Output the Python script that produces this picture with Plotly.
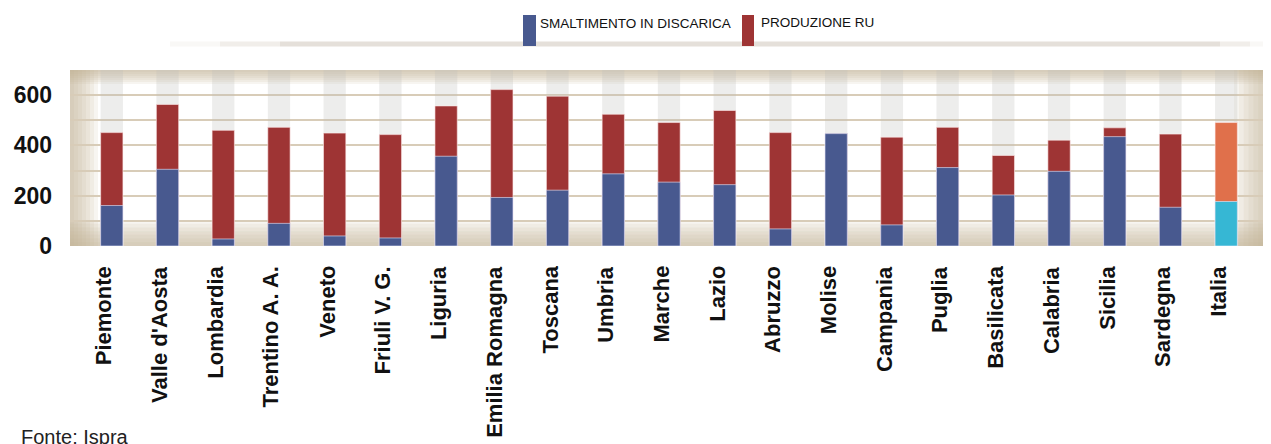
import plotly.graph_objects as go

regions = ["Piemonte", "Valle d'Aosta", "Lombardia", "Trentino A. A.", "Veneto",
           "Friuli V. G.", "Liguria", "Emilia Romagna", "Toscana", "Umbria",
           "Marche", "Lazio", "Abruzzo", "Molise", "Campania", "Puglia",
           "Basilicata", "Calabria", "Sicilia", "Sardegna", "Italia"]
smaltimento = [161, 305, 28, 90, 40, 32, 357, 193, 222, 287, 254, 244, 68, 447,
               84, 312, 203, 297, 435, 154, 177]
produzione = [451, 563, 460, 472, 449, 443, 557, 622, 596, 524, 491, 539, 451, 447,
              433, 472, 360, 421, 470, 445, 491]
y_max = 700

BLUE = "#48598f"
RED = "#9e3434"
ORANGE = "#e0704b"
CYAN = "#36b7d4"

n = len(regions)
prod_colors = [RED] * (n - 1) + [ORANGE]
smal_colors = [BLUE] * (n - 1) + [CYAN]

fig = go.Figure()
fig.add_trace(go.Bar(x=regions, y=[y_max] * n, width=0.4,
                     marker=dict(color="rgba(190,190,185,0.28)", line=dict(width=0)),
                     hoverinfo="skip", showlegend=False))
fig.add_trace(go.Bar(x=regions, y=produzione, width=0.4, name="PRODUZIONE RU",
                     marker=dict(color=prod_colors, line=dict(width=1, color="rgba(255,235,235,0.6)")),
                     showlegend=False))
fig.add_trace(go.Bar(x=regions, y=smaltimento, width=0.4, name="SMALTIMENTO IN DISCARICA",
                     marker=dict(color=smal_colors, line=dict(width=1, color="rgba(230,235,255,0.6)")),
                     showlegend=False))

# page body has an 8px default margin: compensate so the plot lands where the reference has it
PAGE = 8
W, H = 1198.0, 176.0
shapes = []
N = 7
tone = "rgba(196,178,148,{a})"
sides = {"left": 28, "right": 34, "top": 14, "bottom": 26}
for side, depth in sides.items():
    for i in range(N):
        d = depth * (i + 1) / N
        a = 0.13
        if side == "left":
            x0, x1, y0, y1 = 0, d / W, 0, 1
        elif side == "right":
            x0, x1, y0, y1 = 1 - d / W, 1, 0, 1
        elif side == "top":
            x0, x1, y0, y1 = 0, 1, 1 - d / H, 1
        else:
            x0, x1, y0, y1 = 0, 1, 0, d / H
        shapes.append(dict(type="rect", xref="paper", yref="paper", x0=x0, x1=x1, y0=y0, y1=y1,
                           fillcolor=tone.format(a=a), line=dict(width=0), layer="below"))


def px_x(p):
    return (p - 70) / W


def px_y(p):
    return (246 - p) / H


# decorative soft shadow line under the legend
segs = [(170, 220, 0.08), (220, 280, 0.18), (280, 1220, 0.32), (1220, 1250, 0.18), (1250, 1266, 0.08)]
for a0, a1, al in segs:
    shapes.append(dict(type="line", xref="paper", yref="paper", x0=px_x(a0), x1=px_x(a1),
                       y0=px_y(44), y1=px_y(44), line=dict(color=f"rgba(175,160,140,{al})", width=5)))

# legend boxes
shapes.append(dict(type="rect", xref="paper", yref="paper", x0=px_x(523), x1=px_x(536),
                   y0=px_y(46), y1=px_y(15), fillcolor=BLUE, line=dict(width=0)))
shapes.append(dict(type="rect", xref="paper", yref="paper", x0=px_x(742), x1=px_x(754),
                   y0=px_y(46), y1=px_y(15), fillcolor=RED, line=dict(width=0)))

LEG_FONT = dict(family="Liberation Sans, Arial", size=13.5, color="#111")
annotations = [
    dict(text="SMALTIMENTO IN DISCARICA", xref="paper", yref="paper", x=px_x(538), y=px_y(24),
         xanchor="left", yanchor="middle", showarrow=False, font=LEG_FONT),
    dict(text="PRODUZIONE RU", xref="paper", yref="paper", x=px_x(759), y=px_y(23),
         xanchor="left", yanchor="middle", showarrow=False, font=LEG_FONT),
    dict(text="Fonte: Ispra", xref="paper", yref="paper", x=px_x(19), y=px_y(424),
         xanchor="left", yanchor="top", showarrow=False,
         font=dict(family="Liberation Sans, Arial", size=20, color="#222")),
]

# category labels, rotated, hanging below the plot frame
for r in regions:
    annotations.append(dict(text=r, x=r, xref="x", y=0, yref="paper", xanchor="center",
                            yanchor="top", yshift=-18, xshift=-8, textangle=-90, showarrow=False,
                            font=dict(family="Liberation Sans, Arial", size=22, color="#111",
                                      weight="bold")))

fig.update_layout(
    width=1271 - PAGE, height=444 - PAGE,
    margin=dict(l=70 - PAGE, r=1271 - 1268, t=70 - PAGE, b=(444 - PAGE) - (70 - PAGE) - 176,
                autoexpand=False),
    paper_bgcolor="white", plot_bgcolor="white",
    barmode="overlay",
    shapes=shapes, annotations=annotations,
    font=dict(family="Liberation Sans, Arial", color="#111"),
    xaxis=dict(range=[-0.75, n - 0.25], showticklabels=False, showgrid=False, zeroline=False,
               showline=False, ticks="", automargin=False),
    yaxis=dict(range=[0, y_max], dtick=200, showgrid=True, gridcolor="#d8ccb8", gridwidth=2,
               minor=dict(dtick=100, showgrid=True, gridcolor="#d8ccb8", gridwidth=2),
               zeroline=False, showline=False, ticks="", ticklabelstandoff=17, automargin=False,
               tickfont=dict(family="Liberation Sans, Arial", size=23, color="#111", weight="bold")),
)

fig.write_html("out.html")
